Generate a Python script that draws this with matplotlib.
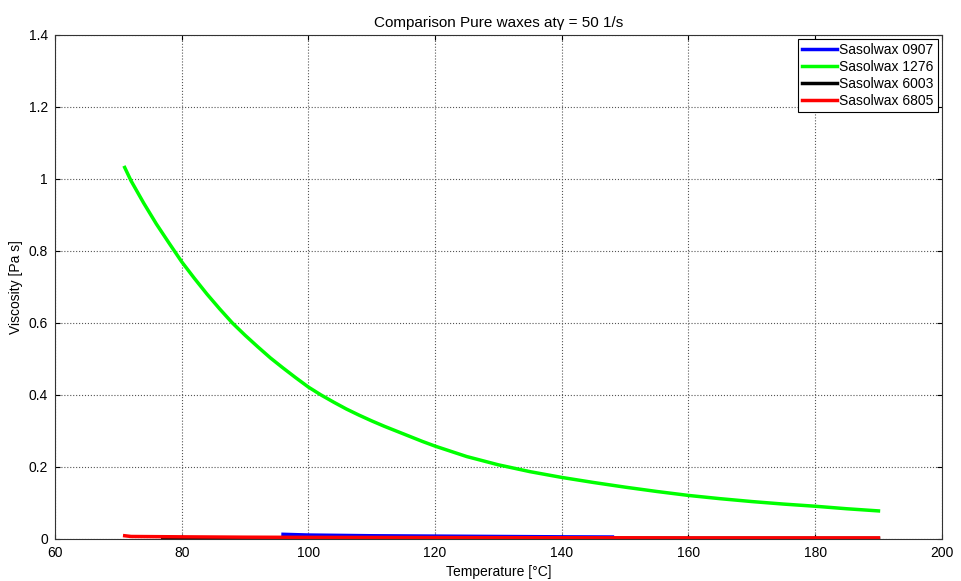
import numpy as np
import matplotlib.pyplot as plt

plt.rcParams['font.family'] = ['Liberation Sans', 'DejaVu Sans']

# Sasolwax 1276
t_1276 = [71, 72, 74, 76, 78, 80, 82, 84, 86, 88, 90, 92, 94, 96, 98, 100,
          102, 104, 106, 108, 110, 112, 114, 116, 118, 120, 125, 130, 135,
          140, 145, 150, 155, 160, 165, 170, 175, 180, 185, 190]
v_1276 = [1.032, 0.995, 0.933, 0.875, 0.822, 0.770, 0.724, 0.680, 0.639,
          0.600, 0.566, 0.534, 0.503, 0.475, 0.448, 0.422, 0.400, 0.380,
          0.361, 0.344, 0.328, 0.313, 0.299, 0.285, 0.271, 0.258, 0.229,
          0.206, 0.187, 0.171, 0.157, 0.144, 0.132, 0.121, 0.112, 0.104,
          0.097, 0.091, 0.084, 0.078]
# Sasolwax 0907
t_0907 = [96, 100, 110, 120, 130, 140, 148]
v_0907 = [0.013, 0.011, 0.009, 0.008, 0.007, 0.006, 0.0055]
# Sasolwax 6003
t_6003 = [77, 80, 90, 100, 120, 140, 160, 190]
v_6003 = [0.003, 0.003, 0.0028, 0.0026, 0.0024, 0.0022, 0.002, 0.0018]
# Sasolwax 6805
t_6805 = [71, 72, 80, 90, 100, 120, 140, 160, 190]
v_6805 = [0.009, 0.007, 0.006, 0.005, 0.0045, 0.004, 0.0035, 0.003, 0.003]

fig = plt.figure(figsize=(9.62, 5.81), dpi=100)
ax = fig.add_axes([0.0572, 0.0723, 0.9218, 0.8675])

ax.plot(t_0907, v_0907, color='#0000ff', lw=2.5, label='Sasolwax 0907')
ax.plot(t_1276, v_1276, color='#00ff00', lw=2.5, label='Sasolwax 1276')
ax.plot(t_6003, v_6003, color='black', lw=2.5, label='Sasolwax 6003')
ax.plot(t_6805, v_6805, color='#ff0000', lw=2.5, label='Sasolwax 6805')

ax.set_xlim(60, 200)
ax.set_ylim(0, 1.4)
ax.set_xticks(np.arange(60, 201, 20))
ax.set_yticks(np.arange(0, 1.41, 0.2))
ax.set_yticklabels(['0', '0.2', '0.4', '0.6', '0.8', '1', '1.2', '1.4'])
ax.tick_params(direction='in', labelsize=10, top=True, right=True, pad=5)
ax.grid(True, linestyle=':', color='#555555', lw=0.8)
for s in ax.spines.values():
    s.set_color('#333333')

ax.set_xlabel('Temperature [°C]', fontsize=10)
ax.set_ylabel('Viscosity [Pa s]', fontsize=10)
ax.set_title('Comparison Pure waxes at\u03b3 = 50 1/s', fontsize=11)

leg = ax.legend(loc='upper right', fontsize=10, fancybox=False, framealpha=1,
                edgecolor='black', borderaxespad=0.3, handlelength=2.5,
                handletextpad=0.15, labelspacing=0.2, borderpad=0.3)
leg.get_frame().set_linewidth(0.8)

fig.savefig('out.png', dpi=100)
